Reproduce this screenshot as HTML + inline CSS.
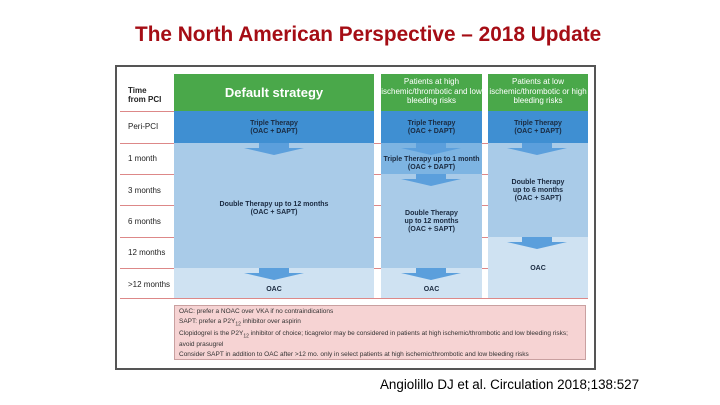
<!DOCTYPE html>
<html><head><meta charset="utf-8"><style>
body{margin:0;width:720px;height:405px;background:#fff;position:relative;overflow:hidden;font-family:"Liberation Sans",sans-serif}
.a{position:absolute}
.t{position:absolute;text-align:center;font-size:7px;font-weight:bold;color:#1a2a40;line-height:8px}
.lbl{position:absolute;left:128px;font-size:8px;color:#222}
.rl{position:absolute;height:1px;background:#d88}
</style></head><body>
<div class="a" style="left:135px;top:23px;white-space:nowrap;color:#a50d15;font-weight:bold;font-size:20.8px">The North American Perspective – 2018 Update</div>
<div class="a" style="left:115px;top:65px;width:477px;height:301px;border:2px solid #555"></div>

<div class="a" style="left:174px;top:74px;width:200px;height:37px;background:#4aa84a;color:#fff;font-weight:bold;font-size:13px;line-height:37px;text-align:center">Default strategy</div>
<div class="a" style="left:381px;top:74px;width:101px;height:37px;background:#4aa84a;color:#fff;font-size:8px;line-height:9.5px;text-align:center;padding-top:3px;box-sizing:border-box">Patients at high ischemic/thrombotic and low bleeding risks</div>
<div class="a" style="left:488px;top:74px;width:100px;height:37px;background:#4aa84a;color:#fff;font-size:8px;line-height:9.5px;text-align:center;padding-top:3px;box-sizing:border-box">Patients at low ischemic/thrombotic or high bleeding risks</div>

<div class="rl" style="left:120px;width:54px;top:111px"></div>
<div class="rl" style="left:120px;width:468px;top:143px"></div>
<div class="rl" style="left:120px;width:468px;top:174px"></div>
<div class="rl" style="left:120px;width:468px;top:205px"></div>
<div class="rl" style="left:120px;width:468px;top:237px"></div>
<div class="rl" style="left:120px;width:468px;top:268px"></div>
<div class="rl" style="left:120px;width:468px;top:298px"></div>

<div class="a" style="left:174px;top:111px;width:200px;height:32px;background:#3f8fd2"></div>
<div class="a" style="left:174px;top:143px;width:200px;height:125px;background:#a9cbe8"></div>
<div class="a" style="left:174px;top:268px;width:200px;height:30px;background:#cfe2f2"></div>
<div class="a" style="left:381px;top:111px;width:101px;height:32px;background:#3f8fd2"></div>
<div class="a" style="left:381px;top:143px;width:101px;height:31px;background:#7db4e2"></div>
<div class="a" style="left:381px;top:174px;width:101px;height:94px;background:#a9cbe8"></div>
<div class="a" style="left:381px;top:268px;width:101px;height:30px;background:#cfe2f2"></div>
<div class="a" style="left:488px;top:111px;width:100px;height:32px;background:#3f8fd2"></div>
<div class="a" style="left:488px;top:143px;width:100px;height:94px;background:#a9cbe8"></div>
<div class="a" style="left:488px;top:237px;width:100px;height:61px;background:#cfe2f2"></div>

<svg class="a" style="left:0;top:0" width="720" height="405">
<g fill="#5b9fdc">
<polygon points="259,143 289,143 289,148 304,148 274,155 244,148 259,148"/>
<polygon points="416,143 446,143 446,148 461,148 431,155 401,148 416,148"/>
<polygon points="522,143 552,143 552,148 567,148 537,155 507,148 522,148"/>
<polygon points="416,174 446,174 446,179 461,179 431,186 401,179 416,179"/>
<polygon points="259,268 289,268 289,273 304,273 274,280 244,273 259,273"/>
<polygon points="416,268 446,268 446,273 461,273 431,280 401,273 416,273"/>
<polygon points="522,237 552,237 552,242 567,242 537,249 507,242 522,242"/>
</g></svg>

<div class="t" style="left:174px;width:200px;top:120px">Triple Therapy<br>(OAC + DAPT)</div>
<div class="t" style="left:381px;width:101px;top:120px">Triple Therapy<br>(OAC + DAPT)</div>
<div class="t" style="left:488px;width:100px;top:120px">Triple Therapy<br>(OAC + DAPT)</div>
<div class="t" style="left:381px;width:101px;top:156px">Triple Therapy up to 1 month<br>(OAC + DAPT)</div>
<div class="t" style="left:174px;width:200px;top:201px">Double Therapy up to 12 months<br>(OAC + SAPT)</div>
<div class="t" style="left:381px;width:101px;top:210px">Double Therapy<br>up to 12 months<br>(OAC + SAPT)</div>
<div class="t" style="left:488px;width:100px;top:179px">Double Therapy<br>up to 6 months<br>(OAC + SAPT)</div>
<div class="t" style="left:174px;width:200px;top:286px">OAC</div>
<div class="t" style="left:381px;width:101px;top:286px">OAC</div>
<div class="t" style="left:488px;width:100px;top:265px">OAC</div>

<div class="lbl" style="top:86px;font-weight:bold;line-height:9px">Time<br>from PCI</div>
<div class="lbl" style="top:122px">Peri-PCI</div>
<div class="lbl" style="top:154px">1 month</div>
<div class="lbl" style="top:186px">3 months</div>
<div class="lbl" style="top:217px">6 months</div>
<div class="lbl" style="top:248px">12 months</div>
<div class="lbl" style="top:280px">&gt;12 months</div>

<div class="a" style="left:174px;top:305px;width:412px;height:55px;background:#f6d3d3;border:1px solid #c9a0a0;font-size:6.5px;color:#333;line-height:8px;padding:2px 4px;box-sizing:border-box">
OAC: prefer a NOAC over VKA if no contraindications<br>
<div style="margin-top:2px">SAPT: prefer a P2Y<sub style="font-size:5px">12</sub> inhibitor over aspirin</div>
<div style="margin-top:2px">Clopidogrel is the P2Y<sub style="font-size:5px">12</sub> inhibitor of choice; ticagrelor may be considered in patients at high ischemic/thrombotic and low bleeding risks; avoid prasugrel</div>
<div style="margin-top:2px">Consider SAPT in addition to OAC after &gt;12 mo. only in select patients at high ischemic/thrombotic and low bleeding risks</div>
</div>

<div class="a" style="left:380px;top:377px;font-size:13.4px;color:#000;white-space:nowrap">Angiolillo DJ et al. Circulation 2018;138:527</div>
</body></html>
